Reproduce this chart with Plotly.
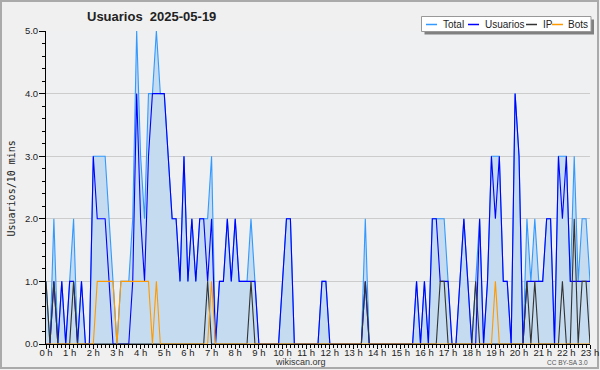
import plotly.graph_objects as go

# 10-minute slots from 00:00 to 23:00
slot_hours = [i / 6 for i in range(139)]

total = [1,0,2,0,1,0,1,2,0,1,0,0,
         3,3,3,3,2,1,0,1,1,1,2,5,
         3,2,4,4,5,4,4,3,2,2,1,3,
         1,2,1,2,2,2,3,0,1,1,2,1,
         2,1,1,1,2,1,0,0,0,0,0,0,
         1,2,2,0,0,0,0,0,0,0,1,1,
         0,0,0,0,0,0,0,0,0,2,0,0,
         0,0,0,0,0,0,0,0,0,0,1,0,
         1,0,2,2,2,2,1,0,0,1,2,1,
         0,1,2,0,1,3,3,3,1,1,0,4,
         3,0,2,1,2,1,1,2,2,0,3,3,
         3,1,3,1,2,2,1]

usuarios = [0,0,1,0,1,0,1,1,0,1,0,0,
            3,2,2,2,1,0,0,0,0,0,1,4,
            2,1,3,4,4,4,4,3,2,2,1,3,
            1,2,1,2,2,1,2,0,1,1,2,1,
            2,1,1,1,1,1,0,0,0,0,0,0,
            1,2,2,0,0,0,0,0,0,0,1,1,
            0,0,0,0,0,0,0,0,0,1,0,0,
            0,0,0,0,0,0,0,0,0,0,1,0,
            1,0,2,2,1,1,1,0,0,1,2,1,
            0,0,2,0,1,3,2,3,1,1,0,4,
            3,0,1,1,1,1,1,2,2,0,3,2,
            3,1,1,1,1,1,1]

ip = [1,0,1,0,0,0,0,1,0,0,0,0,
      0,0,0,0,0,0,0,0,0,0,0,0,
      0,0,0,0,0,0,0,0,0,0,0,0,
      0,0,0,0,0,1,0,0,0,0,0,0,
      0,0,0,0,1,0,0,0,0,0,0,0,
      0,0,0,0,0,0,0,0,0,0,0,0,
      0,0,0,0,0,0,0,0,0,1,0,0,
      0,0,0,0,0,0,0,0,0,0,0,0,
      0,0,0,0,1,1,0,0,0,0,0,0,
      0,1,0,0,0,0,0,0,0,0,0,0,
      0,0,1,0,1,0,0,0,0,0,0,1,
      0,0,2,0,1,1,0]

bots = [0,0,0,0,0,0,0,0,0,0,0,0,
        0,1,1,1,1,1,0,1,1,1,1,1,
        1,1,1,0,1,0,0,0,0,0,0,0,
        0,0,0,0,0,0,1,0,0,0,0,0,
        0,0,0,0,0,0,0,0,0,0,0,0,
        0,0,0,0,0,0,0,0,0,0,0,0,
        0,0,0,0,0,0,0,0,0,0,0,0,
        0,0,0,0,0,0,0,0,0,0,0,0,
        0,0,0,0,0,0,0,0,0,0,0,0,
        0,0,0,0,0,0,1,0,0,0,0,0,
        0,0,0,0,0,0,0,0,0,0,0,0,
        0,0,0,0,0,0,0]

hour_ticks = list(range(24))
hour_labels = [f"{h} h" for h in hour_ticks]
y_ticks = [0, 1, 2, 3, 4, 5]
y_labels = ["0.0", "1.0", "2.0", "3.0", "4.0", "5.0"]

series_names = ["Total", "Usuarios", "IP", "Bots"]
series_colors = ["#3399ff", "#0000ff", "#333333", "#ff9900"]

W, H = 600, 370
L, R, T, B = 46, 10, 31, 26
PW, PH = W - L - R, H - T - B


def px(x):
    return (x - L) / PW


def py(y):
    return (H - B - y) / PH


fig = go.Figure()
fig.add_trace(go.Scatter(x=slot_hours, y=total, name="Total", mode="lines",
                         line=dict(color=series_colors[0], width=1.1),
                         fill="tozeroy", fillcolor="#c5dcf0", showlegend=False))
for name, vals, col in zip(series_names[1:], [usuarios, ip, bots], series_colors[1:]):
    fig.add_trace(go.Scatter(x=slot_hours, y=vals, name=name, mode="lines",
                             line=dict(color=col, width=1.1), showlegend=False))

shapes = []
annotations = []
# outer frame
shapes.append(dict(type="rect", xref="paper", yref="paper",
                   x0=px(1), x1=px(598), y0=py(368), y1=py(1),
                   line=dict(color="#aaaaaa", width=2), layer="below"))
# legend shadow + box
shapes.append(dict(type="rect", xref="paper", yref="paper",
                   x0=px(424.5), x1=px(594), y0=py(34.5), y1=py(19.5),
                   fillcolor="#808080", line=dict(width=0), layer="above"))
shapes.append(dict(type="rect", xref="paper", yref="paper",
                   x0=px(421.5), x1=px(591), y0=py(31.5), y1=py(16.5),
                   fillcolor="#ffffff", line=dict(color="#999999", width=1), layer="above"))
leg_line_x = [426, 468, 526, 552]
leg_text_x = [442, 483.5, 542, 567]
for name, col, lx, tx in zip(series_names, series_colors, leg_line_x, leg_text_x):
    shapes.append(dict(type="line", xref="paper", yref="paper",
                       x0=px(lx), x1=px(lx + 11), y0=py(24.5), y1=py(24.5),
                       line=dict(color=col, width=1.5), layer="above"))
    annotations.append(dict(text=name, xref="paper", yref="paper", x=px(tx), y=py(24.5),
                            xanchor="left", yanchor="middle", showarrow=False, borderpad=0,
                            font=dict(family="Liberation Sans", size=10, color="#222222")))

annotations.append(dict(text="<b>Usuarios\u00a0 2025-05-19</b>", xref="paper", yref="paper",
                        x=px(151), y=py(16.5), xanchor="center", yanchor="middle",
                        showarrow=False, font=dict(family="Liberation Sans", size=13, color="#222222")))
annotations.append(dict(text="Usuarios/10 mins", xref="paper", yref="paper",
                        x=px(10.5), y=py(189), xanchor="center", yanchor="middle", textangle=-90,
                        showarrow=False, font=dict(family="DejaVu Sans Mono", size=10, color="#222222")))
annotations.append(dict(text="wikiscan.org", xref="paper", yref="paper",
                        x=px(300.5), y=py(362), xanchor="center", yanchor="middle",
                        showarrow=False, font=dict(family="Liberation Sans", size=9, color="#333333")))
annotations.append(dict(text="CC BY-SA 3.0", xref="paper", yref="paper",
                        x=px(590), y=py(362), xanchor="right", yanchor="middle",
                        showarrow=False, font=dict(family="Liberation Sans", size=6.5, color="#555555")))

fig.update_layout(
    template="none",
    width=W, height=H,
    margin=dict(l=L, r=R, t=T, b=B, pad=0, autoexpand=False),
    paper_bgcolor="#f0f0f0", plot_bgcolor="#eef0f2",
    showlegend=False,
    shapes=shapes, annotations=annotations,
    xaxis=dict(range=[0, 23], tickmode="array", tickvals=hour_ticks, ticktext=hour_labels,
               automargin=False,
               showgrid=False, zeroline=False, showline=True, linecolor="#000000", linewidth=1,
               ticks="outside", ticklen=4, tickcolor="#000000", tickwidth=1,
               ticklabelstandoff=-4,
               minor=dict(tickmode="linear", tick0=0, dtick=1 / 6, ticks="outside", ticklen=3,
                          tickcolor="#000000", tickwidth=1, showgrid=False),
               tickfont=dict(family="Liberation Sans", size=9.5, color="#222222")),
    yaxis=dict(range=[0, 5], tickmode="array", tickvals=y_ticks, ticktext=y_labels,
               automargin=False,
               showgrid=True, gridcolor="#cccccc", gridwidth=1, zeroline=False,
               showline=True, linecolor="#000000", linewidth=1,
               ticks="outside", ticklen=6, tickcolor="#000000", tickwidth=1,
               ticklabelstandoff=-1,
               minor=dict(tickmode="linear", tick0=0, dtick=0.2, ticks="outside", ticklen=3,
                          tickcolor="#000000", tickwidth=1, showgrid=False),
               tickfont=dict(family="Liberation Sans", size=9.5, color="#222222")),
)

fig.write_html("out.html", config={"displayModeBar": False},
               post_script="document.body.style.margin='0px';")
